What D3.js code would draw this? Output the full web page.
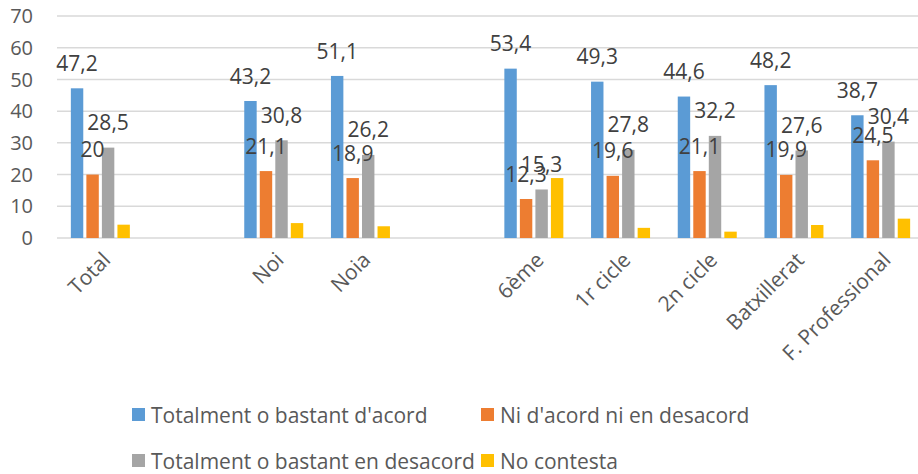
<!DOCTYPE html>
<html>
<head>
<meta charset="utf-8">
<script src="https://cdn.jsdelivr.net/npm/d3@7"></script>
<style>
  body { margin: 0; background: #fff; }
  svg { display: block; font-family: "Open Sans", "Liberation Sans", sans-serif; }
</style>
</head>
<body>
<svg id="chart"></svg>
<script>
// categories (blank entries are the empty slots between groups)
const categories = ["Total", "", "Noi", "Noia", "", "6ème", "1r cicle", "2n cicle", "Batxillerat", "F. Professional"];
const seriesNames = ["Totalment o bastant d'acord", "Ni d'acord ni en desacord", "Totalment o bastant en desacord", "No contesta"];
const colors = ["#5B9BD5", "#ED7D31", "#A5A5A5", "#FFC000"];
// values per series, null = empty slot
const acord     = [47.2, null, 43.2, 51.1, null, 53.4, 49.3, 44.6, 48.2, 38.7];
const niNi      = [20,   null, 21.1, 18.9, null, 12.3, 19.6, 21.1, 19.9, 24.5];
const desacord  = [28.5, null, 30.8, 26.2, null, 15.3, 27.8, 32.2, 27.6, 30.4];
const noContest = [4.2,  null, 4.7,  3.7,  null, 18.9, 3.2,  2.0,  4.1,  6.1];
const series = [acord, niNi, desacord, noContest];
const labelled = [true, true, true, false];
const yTicks = [0, 10, 20, 30, 40, 50, 60, 70];

const W = 918, H = 474;
const svg = d3.select("#chart").attr("width", W).attr("height", H);

const x0 = d3.scaleBand().domain(d3.range(categories.length)).range([57, 924]).padding(0);
const groupW = 59;
const x1 = d3.scaleBand().domain(d3.range(series.length)).range([0, groupW]).paddingInner(0.2).paddingOuter(0);
const y = d3.scaleLinear().domain([0, 70]).range([238, 16]);

// gridlines
svg.append("g").selectAll("line").data(yTicks).enter().append("line")
  .attr("x1", 57).attr("x2", 924)
  .attr("y1", d => y(d)).attr("y2", d => y(d))
  .attr("stroke", "#d9d9d9").attr("stroke-width", 1.5);

// y tick labels
svg.append("g").selectAll("text").data(yTicks).enter().append("text")
  .attr("x", 33).attr("y", d => y(d)).attr("dy", "0.36em")
  .attr("text-anchor", "end").attr("fill", "#595959").attr("font-size", 20)
  .text(d => d);

// bar groups
const groups = svg.append("g").selectAll("g").data(categories).enter().append("g")
  .attr("transform", (d, i) => `translate(${x0(i) + (x0.bandwidth() - groupW) / 2},0)`);

groups.each(function (d, i) {
  const g = d3.select(this);
  series.forEach((vals, s) => {
    if (vals[i] == null) return;
    g.append("rect")
      .attr("x", x1(s)).attr("width", x1.bandwidth())
      .attr("y", y(vals[i])).attr("height", y(0) - y(vals[i]))
      .attr("fill", colors[s]);
  });
  series.forEach((vals, s) => {
    if (vals[i] == null || !labelled[s]) return;
    g.append("text")
      .attr("x", x1(s) + x1.bandwidth() / 2)
      .attr("y", y(vals[i]) - 25).attr("dy", "0.36em")
      .attr("text-anchor", "middle").attr("fill", "#404040").attr("font-size", 21)
      .text(String(vals[i]).replace(".", ","));
  });
});

// x labels
svg.append("g").selectAll("text").data(categories).enter().append("text")
  .attr("transform", (d, i) => `translate(${x0(i) + x0.bandwidth() / 2 + 6},256) rotate(-45)`)
  .attr("text-anchor", "end").attr("dy", "0.36em")
  .attr("fill", "#595959").attr("font-size", 21)
  .text(d => d);

// legend
const legendPos = [[132, 415], [481, 415], [132, 461], [481, 461]];
const legend = svg.append("g").selectAll("g").data(seriesNames).enter().append("g")
  .attr("transform", (d, i) => `translate(${legendPos[i][0]},${legendPos[i][1]})`);
legend.append("rect").attr("x", 0).attr("y", -7).attr("width", 13).attr("height", 13)
  .attr("fill", (d, i) => colors[i]);
legend.append("text").attr("x", 19).attr("dy", "0.36em")
  .attr("fill", "#595959").attr("font-size", 21)
  .text(d => d);
</script>
</body>
</html>
